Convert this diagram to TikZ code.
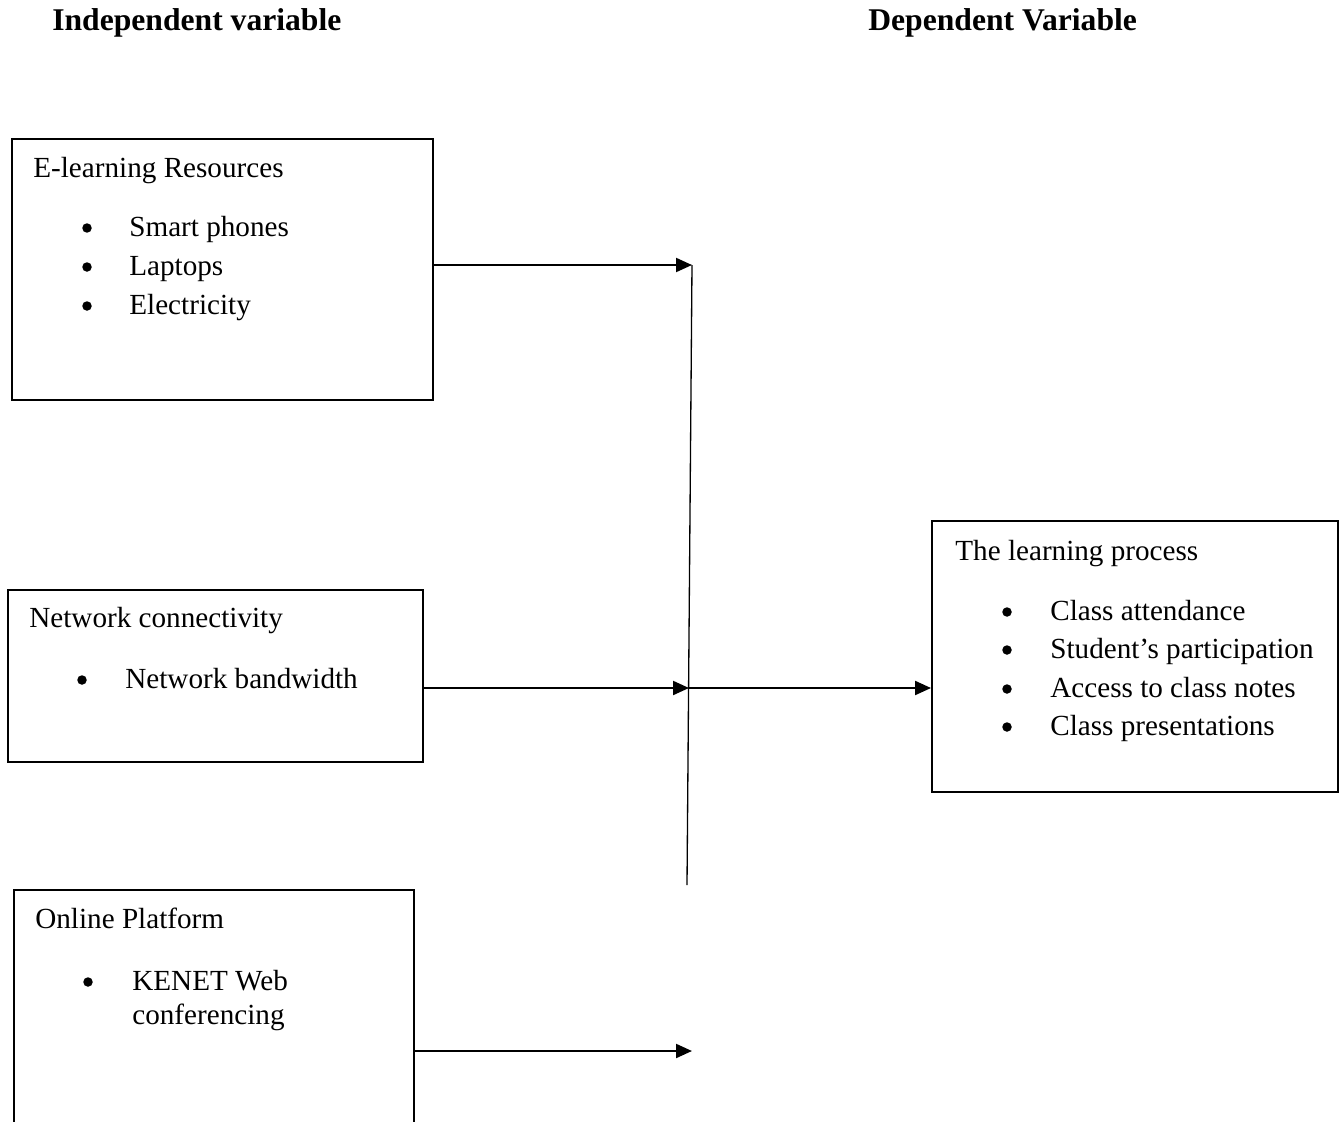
\documentclass[tikz,border=0pt]{standalone}
\usepackage{fontspec}
\setmainfont{Liberation Serif}
\usetikzlibrary{arrows.meta,fit}

\begin{document}
\begin{tikzpicture}[x=0.02cm,y=-0.02cm,
	box/.style={draw, line width=1.1pt, inner sep=0pt},
	txt/.style={anchor=base west, inner sep=0pt, font=\fontsize{16.6}{19.5}\selectfont},
	dot/.style={circle, fill, inner sep=0pt, minimum size=0.19cm},
	ttl/.style={anchor=base west, inner sep=0pt, font=\fontsize{18}{20}\selectfont\bfseries},
	arr/.style={line width=1.2pt, -{Triangle[length=3.2mm,width=2.8mm]}}]
	\useasboundingbox (0,0) rectangle (1339,1122);
	\clip (0,0) rectangle (1339,1122);
	
	% headings
	\node[ttl] (indep) at (52,31) {Independent variable};
	\node[ttl] (dep) at (868,31) {Dependent Variable};
	
	% boxes
	\node[box, fit={(12,139) (433,400)}] (res) {};
	\node[box, fit={(8,590) (423,762)}] (net) {};
	\node[box, fit={(14,890) (414,1150)}] (plat) {};
	\node[box, fit={(932,521) (1338,792)}] (proc) {};
	
	% E-learning resources
	\node[txt] (resh) at (33,177) {E-learning Resources};
	\node[dot] (resd1) at (87,228) {};
	\node[txt] (res1) at (129,236) {Smart phones};
	\node[dot] (resd2) at (87,267) {};
	\node[txt] (res2) at (129,275) {Laptops};
	\node[dot] (resd3) at (87,306) {};
	\node[txt] (res3) at (129,314) {Electricity};
	
	% network
	\node[txt] (neth) at (29,627) {Network connectivity};
	\node[dot] (netd1) at (82,680) {};
	\node[txt] (net1) at (125,688) {Network bandwidth};
	
	% platform
	\node[txt] (plath) at (35,928) {Online Platform};
	\node[dot] (platd1) at (88,982) {};
	\node[txt] (plat1) at (132,990) {KENET Web};
	\node[txt] (plat2) at (132,1024) {conferencing};
	
	% learning process
	\node[txt] (proch) at (955,560) {The learning process};
	\node[dot] (procd1) at (1007,612) {};
	\node[txt] (proc1) at (1050,620) {Class attendance};
	\node[dot] (procd2) at (1007,650) {};
	\node[txt] (proc2) at (1050,658) {Student’s participation};
	\node[dot] (procd3) at (1007,689) {};
	\node[txt] (proc3) at (1050,697) {Access to class notes};
	\node[dot] (procd4) at (1007,727) {};
	\node[txt] (proc4) at (1050,735) {Class presentations};
	
	% joins
	\coordinate (j1) at (692,265);
	\coordinate (j2) at (689,688);
	\coordinate (j3) at (692,1051);
	\coordinate (jend) at (687,885);
	
	\draw[line width=0.75pt] (j1) -- (jend);
	\draw[arr] (res.east |- j1) -- (j1);
	\draw[arr] (net.east |- j2) -- (j2);
	\draw[arr] (j2) -- (proc.west |- j2);
	\draw[arr] (plat.east |- j3) -- (j3);
\end{tikzpicture}
\end{document}
